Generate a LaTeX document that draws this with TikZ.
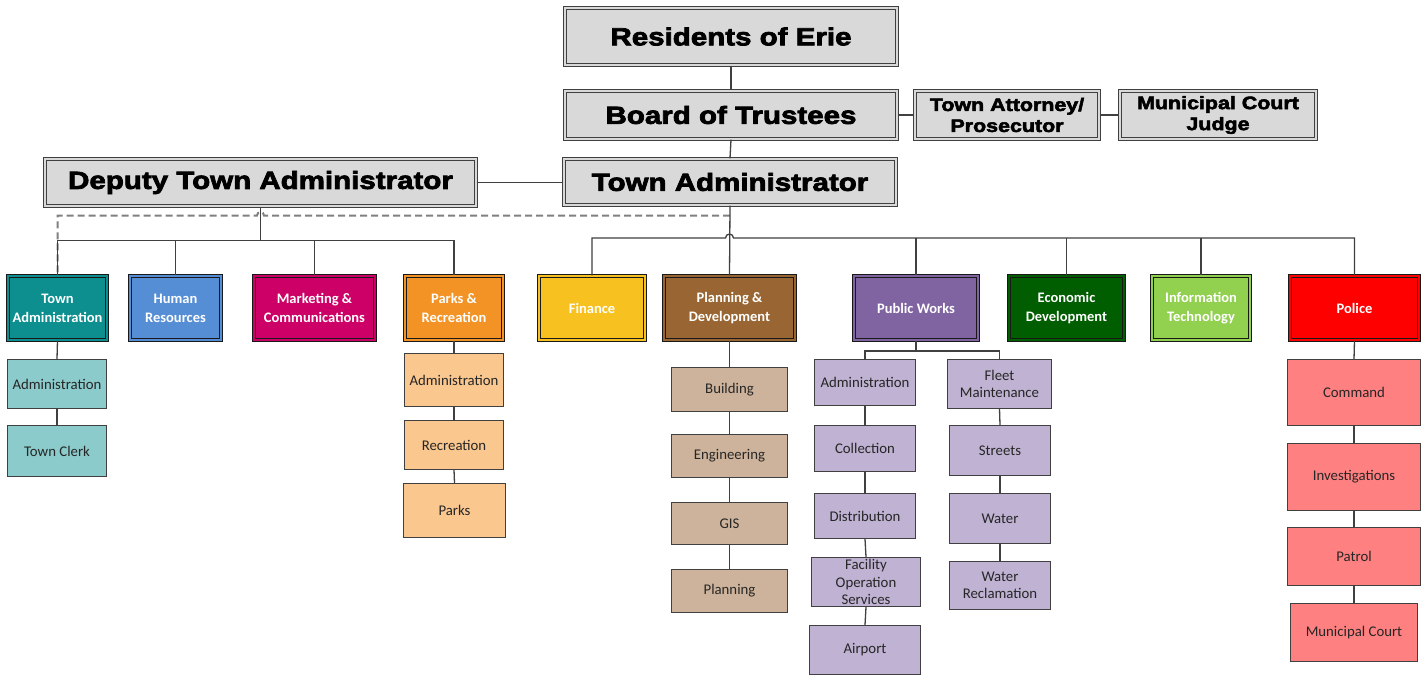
\documentclass[tikz,border=0pt]{standalone}
\usepackage{fontspec}
\setmainfont{Carlito}
\newfontfamily\blk{Liberation Sans Bold}[FakeStretch=1.19,FakeBold=3]
\usetikzlibrary{calc}
\definecolor{topgray}{HTML}{D9D9D9}
\definecolor{cteal}{HTML}{0D8F8F}
\definecolor{chr}{HTML}{558ED5}
\definecolor{cmag}{HTML}{CC0066}
\definecolor{corg}{HTML}{F39325}
\definecolor{cfin}{HTML}{F7C11F}
\definecolor{cbrn}{HTML}{996633}
\definecolor{cpur}{HTML}{8064A2}
\definecolor{cdgr}{HTML}{005E00}
\definecolor{clgr}{HTML}{92D050}
\definecolor{cred}{HTML}{FF0000}
\definecolor{steal}{HTML}{8CCBCB}
\definecolor{sorg}{HTML}{FAC78F}
\definecolor{sbrn}{HTML}{CDB39B}
\definecolor{spur}{HTML}{BFB2D2}
\definecolor{sred}{HTML}{FF8080}
\definecolor{lnc}{HTML}{404040}
\newcommand\mybox[7]{\node[#6, minimum width={#4-#2-4}, minimum height={#5-#3-4}] (#1) at ({(#2+#4)/2},{(#3+#5)/2}) {#7};}
\newcommand\mysub[7]{\node[#6, minimum width={#4-#2-1.3}, minimum height={#5-#3-1.3}] (#1) at ({(#2+#4)/2},{(#3+#5)/2}) {#7};}
\tikzset{
  topbox/.style={draw=black!75, double=topgray, double distance=1.6pt, line width=1.3pt, fill=topgray, inner sep=0pt, align=center, font=\blk\fontsize{24.8}{28}\selectfont},
  smalltop/.style={topbox, font=\blk\fontsize{18}{21}\selectfont},
  dept/.style={draw=black!90, double=#1, double distance=2.2pt, line width=1.1pt, fill=#1, text=white, inner sep=0pt, align=center, font=\bfseries\fontsize{14.5}{19}\selectfont},
  subbox/.style={draw=lnc, line width=1.3pt, fill=#1, inner sep=0pt, align=center, text=black!85, font=\fontsize{14.8}{17.5}\selectfont},
  conn/.style={draw=lnc, line width=1.3pt},
  dashconn/.style={draw=gray, line width=2pt, dash pattern=on 7pt off 4pt}
}
\begin{document}
\begin{tikzpicture}[x=1pt,y=-1pt]
\useasboundingbox[fill=white] (0,0) rectangle (1426,677);
% top level
\mybox{res}{563}{6}{899}{67}{topbox}{Residents of Erie}
\mybox{bot}{563}{89}{899}{141}{topbox}{Board of Trustees}
\mybox{ta}{562}{157}{898}{207}{topbox}{Town Administrator}
\mybox{dta}{43}{157}{478}{208}{topbox}{Deputy Town Administrator}
\mybox{att}{913}{89}{1101}{141}{smalltop}{Town Attorney/\\Prosecutor}
\mybox{jud}{1118}{89}{1318}{141}{smalltop}{Municipal Court\\Judge}
% departments
\mybox{tad}{6}{274}{109}{342}{dept=cteal}{Town\\Administration}
\mybox{hr}{128}{274}{223}{342}{dept=chr}{Human\\Resources}
\mybox{mkt}{252}{274}{377}{342}{dept=cmag}{Marketing \&\\Communications}
\mybox{prk}{403}{274}{505}{342}{dept=corg}{Parks \&\\Recreation}
\mybox{fin}{537}{274}{647}{342}{dept=cfin}{Finance}
\mybox{pd}{662}{274}{797}{342}{dept=cbrn}{Planning \&\\Development}
\mybox{pw}{852}{274}{980}{342}{dept=cpur}{Public Works}
\mybox{ed}{1007}{274}{1126}{342}{dept=cdgr}{Economic\\Development}
\mybox{it}{1150}{274}{1252}{342}{dept=clgr}{Information\\Technology}
\mybox{pol}{1288}{274}{1421}{342}{dept=cred}{Police}
% sub units
\mysub{tad1}{7}{359}{107}{409}{subbox=steal}{Administration}
\mysub{tad2}{7}{425}{107}{477}{subbox=steal}{Town Clerk}
\mysub{pk1}{404}{353}{504}{407}{subbox=sorg}{Administration}
\mysub{pk2}{404}{420}{504}{470}{subbox=sorg}{Recreation}
\mysub{pk3}{403}{483}{506}{538}{subbox=sorg}{Parks}
\mysub{pd1}{671}{367}{788}{412}{subbox=sbrn}{Building}
\mysub{pd2}{671}{434}{788}{478}{subbox=sbrn}{Engineering}
\mysub{pd3}{671}{502}{788}{545}{subbox=sbrn}{GIS}
\mysub{pd4}{671}{569}{788}{613}{subbox=sbrn}{Planning}
\mysub{pwa}{814}{359}{916}{406}{subbox=spur}{Administration}
\mysub{pwb}{814}{425}{916}{472}{subbox=spur}{Collection}
\mysub{pwc}{814}{493}{916}{539}{subbox=spur}{Distribution}
\mysub{pwd}{811}{557}{921}{607}{subbox=spur}{Facility\\Operation\\Services}
\mysub{pwe}{809}{625}{921}{675}{subbox=spur}{Airport}
\mysub{pwf}{947}{359}{1052}{409}{subbox=spur}{Fleet\\Maintenance}
\mysub{pwg}{949}{425}{1051}{476}{subbox=spur}{Streets}
\mysub{pwh}{949}{493}{1051}{544}{subbox=spur}{Water}
\mysub{pwi}{949}{561}{1051}{610}{subbox=spur}{Water\\Reclamation}
\mysub{po1}{1287}{359}{1421}{426}{subbox=sred}{Command}
\mysub{po2}{1287}{443}{1421}{511}{subbox=sred}{Investigations}
\mysub{po3}{1287}{527}{1421}{586}{subbox=sred}{Patrol}
\mysub{po4}{1290}{603}{1418}{662}{subbox=sred}{Municipal Court}
% bus coordinates
\coordinate (dbus) at (0,240.5);
\coordinate (mbus) at (0,238);
\coordinate (dsh) at (0,215.5);
\coordinate (pwj) at (0,351);
% top connectors
\draw[conn] (res.south) -- (bot.north);
\draw[conn] (bot.south) -- (ta.north);
\draw[conn] (bot.east) -- (att.west);
\draw[conn] (att.east) -- (jud.west);
\draw[conn] (dta.east) -- (dta.east -| ta.west);
% dashed line
\draw[dashconn] (ta.south |- dsh) -- ($(dta.south |- dsh)+(3.5,0)$) arc[start angle=0, end angle=-180, radius=3.5] -- (tad.north |- dsh) -- (tad.north);
% deputy bus
\draw[conn] (dta.south) -- (dta.south |- dbus);
\draw[conn] (tad.north) |- (prk.north |- dbus) -- (prk.north);
\draw[conn] (hr.north) -- (hr.north |- dbus);
\draw[conn] (mkt.north) -- (mkt.north |- dbus);
% administrator bus
\draw[conn] (ta.south) -- (pd.north);
\draw[conn] (fin.north) |- ($(pd.north |- mbus)+(-4,0)$) arc[start angle=180, end angle=360, radius=4] -| (pol.north);
\draw[conn] (pw.north) -- (pw.north |- mbus);
\draw[conn] (ed.north) -- (ed.north |- mbus);
\draw[conn] (it.north) -- (it.north |- mbus);
% sub connectors
\draw[conn] (tad.south) -- (tad1.north);
\draw[conn] (tad1.south) -- (tad2.north);
\draw[conn] (prk.south) -- (pk1.north);
\draw[conn] (pk1.south) -- (pk2.north);
\draw[conn] (pk2.south) -- (pk3.north);
\draw[conn] (pd.south) -- (pd1.north);
\draw[conn] (pd1.south) -- (pd2.north);
\draw[conn] (pd2.south) -- (pd3.north);
\draw[conn] (pd3.south) -- (pd4.north);
\draw[conn] (pw.south) -- (pw.south |- pwj);
\draw[conn] (pwa.north) |- (pwf.north |- pwj) -- (pwf.north);
\draw[conn] (pwa.south) -- (pwb.north);
\draw[conn] (pwb.south) -- (pwc.north);
\draw[conn] (pwc.south) -- (pwd.north);
\draw[conn] (pwd.south) -- (pwe.north);
\draw[conn] (pwf.south) -- (pwg.north);
\draw[conn] (pwg.south) -- (pwh.north);
\draw[conn] (pwh.south) -- (pwi.north);
\draw[conn] (pol.south) -- (po1.north);
\draw[conn] (po1.south) -- (po2.north);
\draw[conn] (po2.south) -- (po3.north);
\draw[conn] (po3.south) -- (po4.north);
\end{tikzpicture}
\end{document}
